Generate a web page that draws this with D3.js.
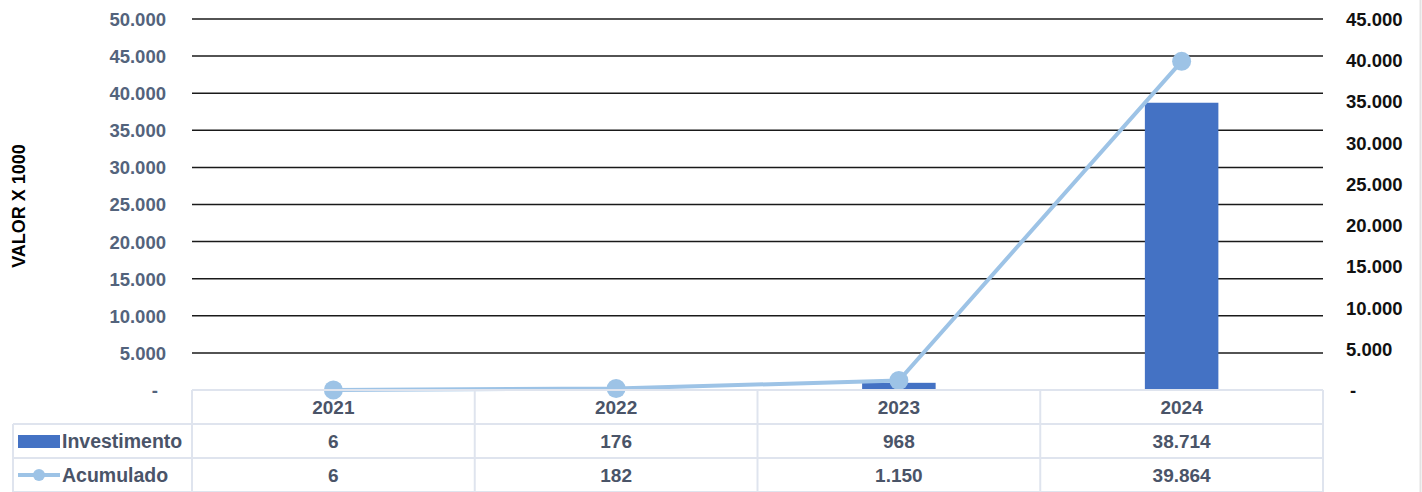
<!DOCTYPE html>
<html>
<head>
<meta charset="utf-8">
<script src="https://cdn.jsdelivr.net/npm/d3@7"></script>
<style>
  body { margin: 0; background: #fff; }
  text { font-family: "Liberation Sans", Arial, sans-serif; font-weight: bold; }
</style>
</head>
<body>
<div id="chart-area"></div>
<script>
// data
var anos = ["2021", "2022", "2023", "2024"];
var investimento = [6, 176, 968, 38714];
var acumulado = [6, 182, 1150, 39864];
var ticksEsq = [0, 5000, 10000, 15000, 20000, 25000, 30000, 35000, 40000, 45000, 50000];
var ticksDir = [0, 5000, 10000, 15000, 20000, 25000, 30000, 35000, 40000, 45000];

var W = 1422, H = 492;
var plotL = 192, plotR = 1323, plotT = 19, base = 390;
var rowH = 34;

var svg = d3.select("#chart-area")
  .append("svg")
  .attr("width", W)
  .attr("height", H);

var fmt = v => v === 0 ? "-" : d3.format(",")(v).replace(/,/g, ".");

var x = d3.scaleBand().domain(anos).range([plotL, plotR]);
var yL = d3.scaleLinear().domain([0, 50000]).range([base, plotT]);
var yR = d3.scaleLinear().domain([0, 45000]).range([base, plotT]);

// gridlines (left axis)
svg.append("g").selectAll("line")
  .data(ticksEsq.filter(d => d > 0))
  .enter()
  .append("line")
    .attr("x1", plotL).attr("x2", plotR)
    .attr("y1", d => yL(d)).attr("y2", d => yL(d))
    .attr("stroke", "#1a1a1a")
    .attr("stroke-width", 1.5);

// left axis labels
var axL = svg.append("g")
  .attr("transform", "translate(" + (plotL - 26) + ",0)")
  .call(d3.axisLeft(yL).tickValues(ticksEsq).tickFormat(fmt).tickSize(0).tickPadding(0));
axL.select(".domain").remove();
axL.selectAll("text")
  .attr("fill", "#53637c")
  .style("font-size", "18.5px")
  .attr("dy", "0.35em")
  .attr("dx", d => d === 0 ? -8 : 0);

// right axis labels
var axR = svg.append("g")
  .attr("transform", "translate(" + (plotR + 23) + ",0)")
  .call(d3.axisRight(yR).tickValues(ticksDir).tickFormat(fmt).tickSize(0).tickPadding(0));
axR.select(".domain").remove();
axR.selectAll("text")
  .attr("fill", "#111")
  .style("font-size", "18.5px")
  .attr("dy", "0.35em")
  .attr("dx", d => d === 0 ? 4 : 0);

// y title
svg.append("text")
  .attr("transform", "translate(25,206) rotate(-90)")
  .attr("text-anchor", "middle")
  .style("font-size", "18px")
  .attr("fill", "#000")
  .text("VALOR X 1000");

// bars
var bw = x.bandwidth() * 0.26;
svg.append("g").selectAll("rect")
  .data(investimento)
  .enter()
  .append("rect")
    .attr("x", (d, i) => x(anos[i]) + x.bandwidth() / 2 - bw / 2)
    .attr("y", d => yL(d))
    .attr("width", bw)
    .attr("height", d => base - yL(d))
    .attr("fill", "#4472c4");

// line
var line = d3.line()
  .x((d, i) => x(anos[i]) + x.bandwidth() / 2)
  .y(d => yR(d));

svg.append("path")
  .datum(acumulado)
  .attr("d", line)
  .attr("fill", "none")
  .attr("stroke", "#9dc3e6")
  .attr("stroke-width", 4);

svg.append("g").selectAll("circle")
  .data(acumulado)
  .enter()
  .append("circle")
    .attr("cx", (d, i) => x(anos[i]) + x.bandwidth() / 2)
    .attr("cy", d => yR(d))
    .attr("r", 9.5)
    .attr("fill", "#9dc3e6");

// data table
var grid = "#dfe4ee";
var tbl = svg.append("g");
var tableLeft = 13, tableBottom = base + rowH * 3;

tbl.append("line").attr("x1", plotL).attr("x2", plotR)
  .attr("y1", base).attr("y2", base).attr("stroke", grid).attr("stroke-width", 2);
[1, 2, 3].forEach(r => {
  tbl.append("line").attr("x1", tableLeft).attr("x2", plotR)
    .attr("y1", base + rowH * r).attr("y2", base + rowH * r)
    .attr("stroke", grid).attr("stroke-width", 2);
});
tbl.append("line").attr("x1", tableLeft).attr("x2", tableLeft)
  .attr("y1", base + rowH).attr("y2", tableBottom).attr("stroke", grid).attr("stroke-width", 2);
anos.forEach(a => {
  tbl.append("line").attr("x1", x(a)).attr("x2", x(a))
    .attr("y1", base).attr("y2", tableBottom).attr("stroke", grid).attr("stroke-width", 2);
});
tbl.append("line").attr("x1", plotR).attr("x2", plotR)
  .attr("y1", base).attr("y2", tableBottom).attr("stroke", grid).attr("stroke-width", 2);

var rows = [
  { nome: null, vals: anos },
  { nome: "Investimento", vals: investimento.map(fmt) },
  { nome: "Acumulado", vals: acumulado.map(fmt) }
];

rows.forEach((r, ri) => {
  var cy = base + rowH * ri + rowH / 2;
  tbl.selectAll(".c" + ri)
    .data(r.vals)
    .enter()
    .append("text")
      .attr("x", (d, i) => x(anos[i]) + x.bandwidth() / 2)
      .attr("y", cy)
      .attr("dy", "0.36em")
      .attr("text-anchor", "middle")
      .style("font-size", "19px")
      .attr("fill", "#4a5468")
      .text(d => d);
});

// legend keys in table
tbl.append("rect")
  .attr("x", 18).attr("y", base + rowH + 11)
  .attr("width", 42).attr("height", 13)
  .attr("fill", "#4472c4");
tbl.append("text")
  .attr("x", 62).attr("y", base + rowH * 1.5).attr("dy", "0.36em")
  .style("font-size", "19.5px").attr("fill", "#4a5468")
  .text(rows[1].nome);

tbl.append("line")
  .attr("x1", 18).attr("x2", 60)
  .attr("y1", base + rowH * 2.5).attr("y2", base + rowH * 2.5)
  .attr("stroke", "#9dc3e6").attr("stroke-width", 4);
tbl.append("circle")
  .attr("cx", 39).attr("cy", base + rowH * 2.5).attr("r", 6)
  .attr("fill", "#9dc3e6");
tbl.append("text")
  .attr("x", 62).attr("y", base + rowH * 2.5).attr("dy", "0.36em")
  .style("font-size", "19.5px").attr("fill", "#4a5468")
  .text(rows[2].nome);

// outer frame edge
svg.append("line")
  .attr("x1", W - 1.5).attr("x2", W - 1.5)
  .attr("y1", 0).attr("y2", H)
  .attr("stroke", "#e3e3e3").attr("stroke-width", 2);
</script>
</body>
</html>
